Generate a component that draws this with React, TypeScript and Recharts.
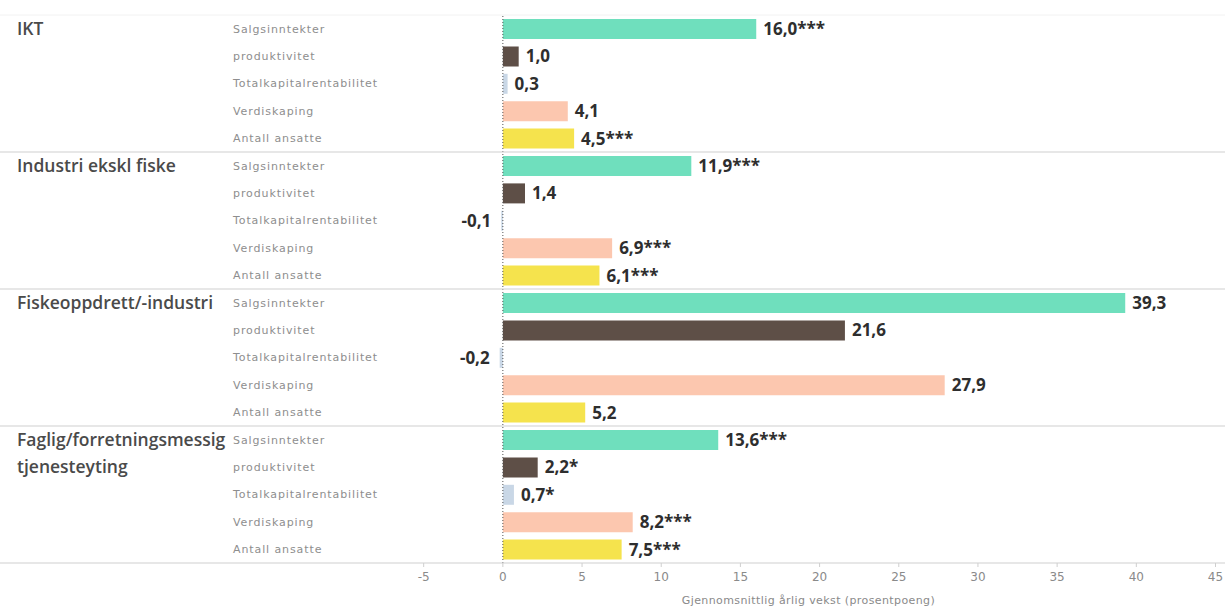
import React from 'react';
import { BarChart, Bar, XAxis, YAxis, Cell, LabelList, ReferenceLine, Label } from 'recharts';

const groups = ['IKT', 'Industri ekskl fiske', 'Fiskeoppdrett/-industri', 'Faglig/forretningsmessig\ntjenesteyting'];
const metrics = ['Salgsinntekter', 'produktivitet', 'Totalkapitalrentabilitet', 'Verdiskaping', 'Antall ansatte'];
const metricColors = ['#6fdfbd', '#5e4f47', '#c9d7e6', '#fcc7af', '#f5e34d'];

const iktValues = [16.0, 1.0, 0.3, 4.1, 4.5];
const iktStars = ['***', '', '', '', '***'];
const industriValues = [11.9, 1.4, -0.1, 6.9, 6.1];
const industriStars = ['***', '', '', '***', '***'];
const fiskeValues = [39.3, 21.6, -0.2, 27.9, 5.2];
const fiskeStars = ['', '', '', '', ''];
const fagligValues = [13.6, 2.2, 0.7, 8.2, 7.5];
const fagligStars = ['***', '*', '*', '***', '***'];

const xTicks = [-5, 0, 5, 10, 15, 20, 25, 30, 35, 40, 45];
const xTitle = 'Gjennomsnittlig årlig vekst (prosentpoeng)';

const groupValues = [iktValues, industriValues, fiskeValues, fagligValues];
const groupStars = [iktStars, industriStars, fiskeStars, fagligStars];

const data = groups.flatMap((g, gi) =>
  metrics.map((m, mi) => ({
    id: `${gi}-${mi}`,
    group: g,
    metric: m,
    gi,
    mi,
    value: groupValues[gi][mi],
    label: groupValues[gi][mi].toFixed(1).replace('.', ',') + groupStars[gi][mi],
  }))
);

const W = 1225;
const H = 608;
const TOP = 15;
const XAXIS_H = 45;
const PLOT_H = H - TOP - XAXIS_H;
const BAND = PLOT_H / data.length;

const YTick = (props: any) => {
  const { y, payload } = props;
  const row = data.find((d) => d.id === payload.value);
  if (!row) return null;
  const lines = row.group.split('\n');
  return (
    <g>
      {row.mi === 0 && row.gi === 0 && (
        <line x1={0} x2={W} y1={y - BAND / 2} y2={y - BAND / 2} stroke="#f2f2f2" strokeWidth={1} />
      )}
      <text
        x={233}
        y={y}
        dy="0.35em"
        fill="#8e8e8e"
        fontSize={11}
        letterSpacing={0.9}
        fontFamily="DejaVu Sans, sans-serif"
      >
        {row.metric}
      </text>
      {row.mi === 0 &&
        lines.map((ln, i) => (
          <text
            key={i}
            x={17}
            y={y + i * BAND}
            dy="0.35em"
            fill="#4a4a4a"
            fontSize={17.5}
            fontWeight={600}
            fontFamily="Open Sans, sans-serif"
          >
            {ln}
          </text>
        ))}
      {row.mi === metrics.length - 1 && (
        <line x1={0} x2={W} y1={y + BAND / 2} y2={y + BAND / 2} stroke="#cfcfcf" strokeWidth={1} />
      )}
    </g>
  );
};

const ValueLabel = (props: any) => {
  const { x, y, width, height, index } = props;
  const row = data[index];
  if (!row) return null;
  const neg = row.value < 0;
  const end = neg ? Math.min(x, x + width) : Math.max(x, x + width);
  return (
    <text
      x={neg ? end - 10 : end + 7}
      y={y + height / 2}
      dy="0.35em"
      textAnchor={neg ? 'end' : 'start'}
      fill="#2e2e2e"
      fontSize={17}
      fontWeight={700}
      fontFamily="Open Sans, sans-serif"
    >
      {row.label}
    </text>
  );
};

export default function App() {
  return (
    <div style={{ position: 'absolute', left: 0, top: 0, width: W, height: H, background: '#fff' }}>
      <BarChart
        width={W}
        height={H}
        data={data}
        layout="vertical"
        margin={{ top: TOP, right: 0, bottom: 0, left: 0 }}
        barSize={20}
      >
        <XAxis
          type="number"
          domain={[-7, 45.6]}
          ticks={xTicks}
          allowDataOverflow
          height={XAXIS_H}
          axisLine={false}
          tickLine={{ stroke: '#cfcfcf' }}
          tickSize={4}
          tickMargin={5}
          tick={{ fill: '#8a8a8a', fontSize: 12, fontFamily: 'DejaVu Sans, sans-serif' }}
        >
          <Label
            value={xTitle}
            position="insideBottom"
            offset={4}
            fill="#8a8a8a"
            fontSize={11}
            letterSpacing={0.4}
            fontFamily="DejaVu Sans, sans-serif"
          />
        </XAxis>
        <YAxis
          type="category"
          dataKey="id"
          width={392}
          axisLine={false}
          tickLine={false}
          tick={<YTick />}
          interval={0}
        />
        <ReferenceLine x={0} stroke="#555" strokeDasharray="1 2" ifOverflow="extendDomain" />
        <Bar dataKey="value" isAnimationActive={false}>
          {data.map((d) => (
            <Cell key={d.id} fill={metricColors[d.mi]} />
          ))}
          <LabelList dataKey="value" content={<ValueLabel />} />
        </Bar>
      </BarChart>
    </div>
  );
}
